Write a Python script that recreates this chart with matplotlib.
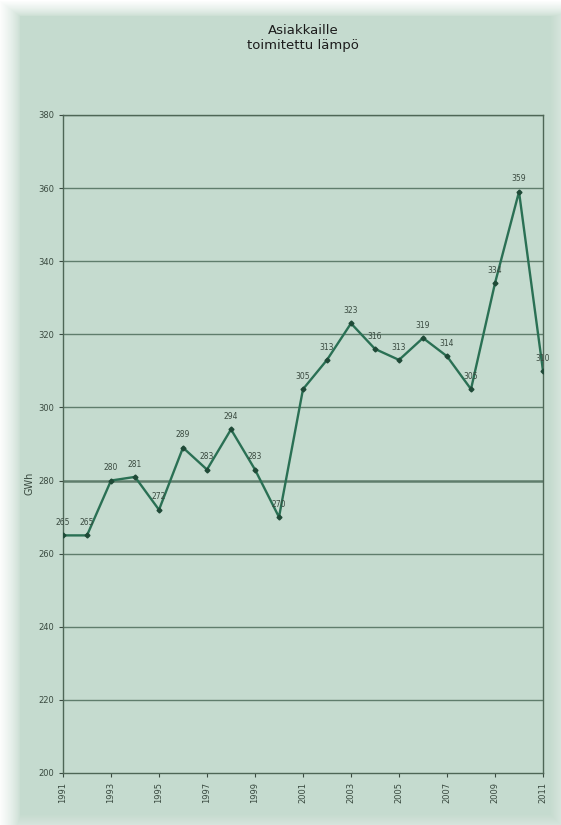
import numpy as np
import matplotlib
matplotlib.use("Agg")
import matplotlib.pyplot as plt

years = list(range(1991, 2012))
heat_gwh = [265, 265, 280, 281, 272, 289, 283, 294, 283, 270,
            305, 313, 323, 316, 313, 319, 314, 305, 334, 359, 310]
tick_years = list(range(1991, 2012, 2))
y_ticks = list(range(200, 381, 20))

title = "Asiakkaille\ntoimitettu lämpö"
y_label = "GWh"

W, H = 561, 825
bg = np.array([0.776, 0.859, 0.812])
line_col = "#2a7054"
grid_col = "#5f7d6c"

fig = plt.figure(figsize=(W / 100, H / 100), dpi=100)

# background with the pale fading frame of the scan
yy, xx = np.mgrid[0:H, 0:W]
fade = np.zeros((H, W))
fade = np.maximum(fade, np.clip(1 - yy / 16.0, 0, 1) ** 0.7)
fade = np.maximum(fade, np.clip(1 - xx / 20.0, 0, 1) ** 0.7 * 0.95)
fade = np.maximum(fade, np.clip((xx - 550) / 11.0, 0, 1) * 0.3)
fade = np.maximum(fade, np.clip((yy - 814) / 11.0, 0, 1) * 0.3)
img = bg[None, None, :] * (1 - fade[..., None]) + fade[..., None]
bax = fig.add_axes([0, 0, 1, 1], zorder=-1)
bax.imshow(img, aspect="auto", extent=[0, 1, 0, 1], interpolation="nearest")
bax.axis("off")

left, right, top, bottom = 63, 543, 115, 773
ax = fig.add_axes([left / W, (H - bottom) / H, (right - left) / W, (bottom - top) / H])
ax.set_facecolor("none")

for v in y_ticks[1:]:
    ax.axhline(v, color=grid_col, lw=1.8 if v == 280 else 1.0, zorder=1)

ax.plot(years, heat_gwh, color=line_col, lw=1.7, marker="D", ms=2.5,
        mfc="#1f4a37", mec="#1f4a37", zorder=3)

for x, v in zip(years, heat_gwh):
    ax.annotate(str(v), (x, v), xytext=(0, 6), textcoords="offset points",
                ha="center", va="bottom", fontsize=5.5, color="#3a4a40",
                annotation_clip=False)

ax.set_xlim(1991, 2011)
ax.set_ylim(200, 380)
ax.set_yticks(y_ticks)
ax.set_xticks(tick_years)
ax.set_xticklabels([str(y) for y in tick_years], rotation=90)
ax.tick_params(axis="both", labelsize=6, colors="#3a4a40", length=3, width=0.8)
for s in ax.spines.values():
    s.set_color("#4e6656")
    s.set_linewidth(1.0)

ax.set_ylabel(y_label, fontsize=7, color="#3a4a40")
ax.yaxis.set_label_coords(-0.06, 0.44)

fig.text(303 / W, 1 - 38 / H, title, ha="center", va="center",
         fontsize=9.5, color="#1c1c1c", linespacing=1.3)

fig.savefig("out.png", dpi=100)
